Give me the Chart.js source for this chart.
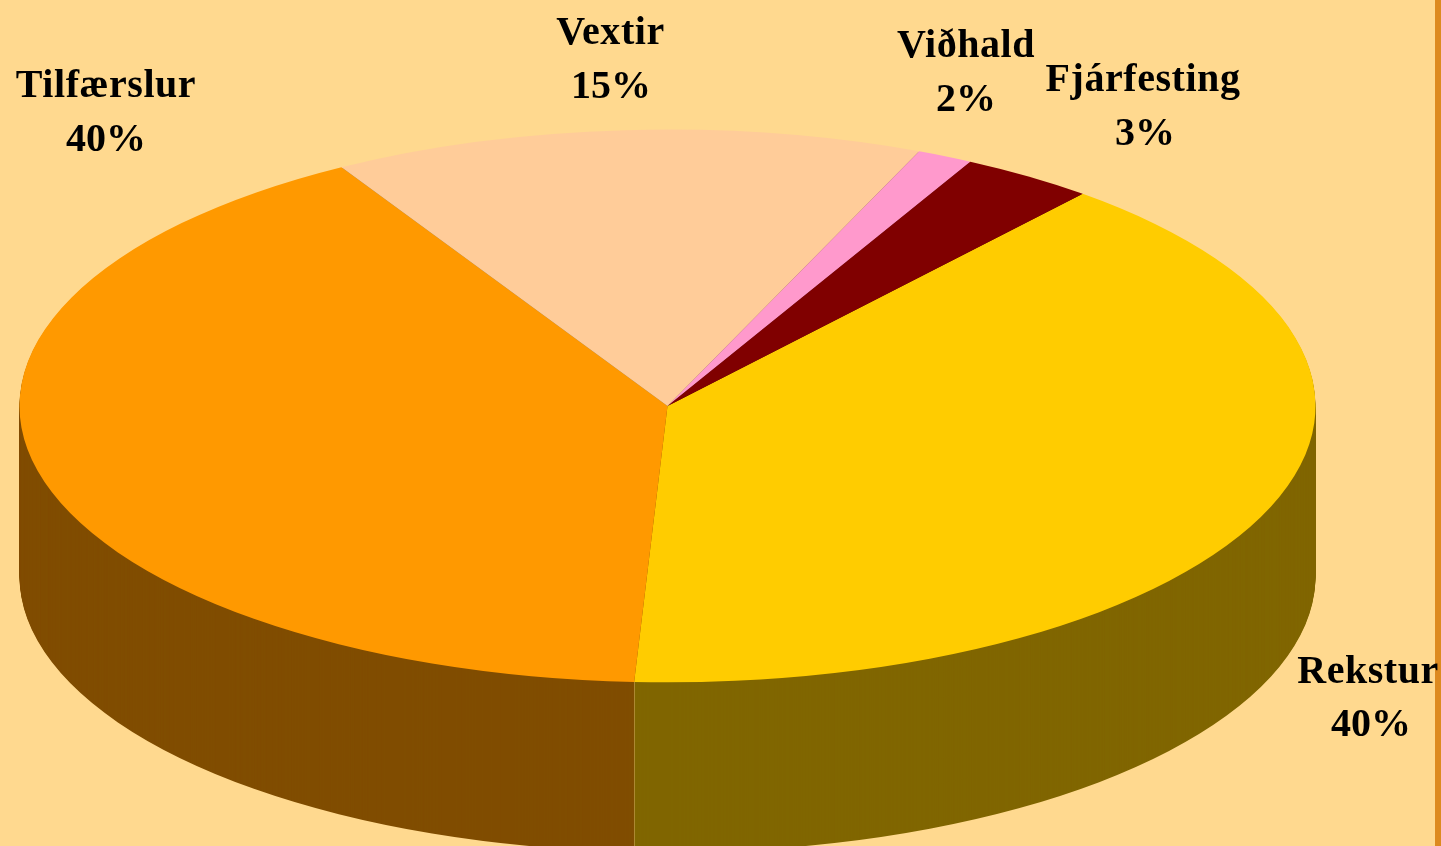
<!DOCTYPE html>
<html><head><meta charset="utf-8">
<style>html,body{margin:0;padding:0;background:#FFD98F;overflow:hidden}canvas{display:block}</style>
<script src="https://cdn.jsdelivr.net/npm/chart.js@4"></script>
</head><body>
<canvas id="c" width="1441" height="846"></canvas>
<script>
const categories = ['Rekstur','Tilfærslur','Vextir','Viðhald','Fjárfesting'];
const percentLabels = ['40%','40%','15%','2%','3%'];
const values = [39.75,40.79,14.74,1.39,3.33];
const topColors = ['#FFCC00','#FF9900','#FFCC99','#FF99CC','#800000'];
const wallColors = ['#806600','#804D00','#806633','#804D66','#400000'];

const labelAnchors = [[1368,683,1371,736],[106,97,106,151],[610.5,44,611,98],[966,57,966,111],[1143,91,1145,145]];
const squash = 0.4265, depth = 170;

const pie3d = {
  id:'pie3d',
  beforeDraw(chart){
    const {ctx,width,height}=chart;
    ctx.save();
    ctx.fillStyle='#FFD98F';ctx.fillRect(0,0,width,height);
    ctx.fillStyle='#DD8A1F';ctx.fillRect(1435,0,6,height);
    ctx.restore();
  },
  beforeDatasetsDraw(chart){
    const {ctx}=chart, arcs=chart.getDatasetMeta(0).data;
    const cy=arcs[0].y;
    // side wall: the library's own arcs, redrawn in the wall colours from the bottom up
    for(let d=depth;d>=1;d--){
      ctx.save();
      ctx.translate(0,cy+d);ctx.scale(1,squash);ctx.translate(0,-cy);
      arcs.forEach((a,i)=>{
        const bg=a.options.backgroundColor;
        a.options.backgroundColor=wallColors[i];
        a.draw(ctx);
        a.options.backgroundColor=bg;
      });
      ctx.restore();
    }
    // pale seam where the two front slices meet
    const a=arcs[0], x=a.x+a.outerRadius*Math.cos(a.endAngle), y=cy+a.outerRadius*Math.sin(a.endAngle)*squash;
    ctx.save();ctx.strokeStyle='rgba(255,217,143,0.35)';ctx.lineWidth=1;
    ctx.beginPath();ctx.moveTo(Math.round(x)+.5,y);ctx.lineTo(Math.round(x)+.5,y+depth);ctx.stroke();ctx.restore();
    ctx.save();
    ctx.translate(0,cy);ctx.scale(1,squash);ctx.translate(0,-cy);
  },
  afterDatasetsDraw(chart){ chart.ctx.restore(); },
  afterDraw(chart){
    const {ctx}=chart;
    ctx.save();
    ctx.fillStyle='#000';ctx.textAlign='center';ctx.textBaseline='alphabetic';
    ctx.font='bold 40px "Liberation Serif"';
    categories.forEach((c,i)=>{
      const [x1,y1,x2,y2]=labelAnchors[i];
      ctx.letterSpacing='0.55px';
      ctx.fillText(c,x1,y1);
      ctx.letterSpacing='0px';
      ctx.fillText(percentLabels[i],x2,y2);
    });
    ctx.restore();
  }
};

new Chart(document.getElementById('c'),{
  type:'pie',
  data:{labels:categories,datasets:[{data:values,backgroundColor:topColors,borderWidth:0,clip:false}]},
  options:{
    responsive:false,animation:false,
    rotation:39.85,
    radius:648,
    layout:{padding:{left:0,top:0,right:106,bottom:34}},
    plugins:{legend:{display:false},tooltip:{enabled:false}},
    events:[]
  },
  plugins:[pie3d]
});
</script>
</body></html>
